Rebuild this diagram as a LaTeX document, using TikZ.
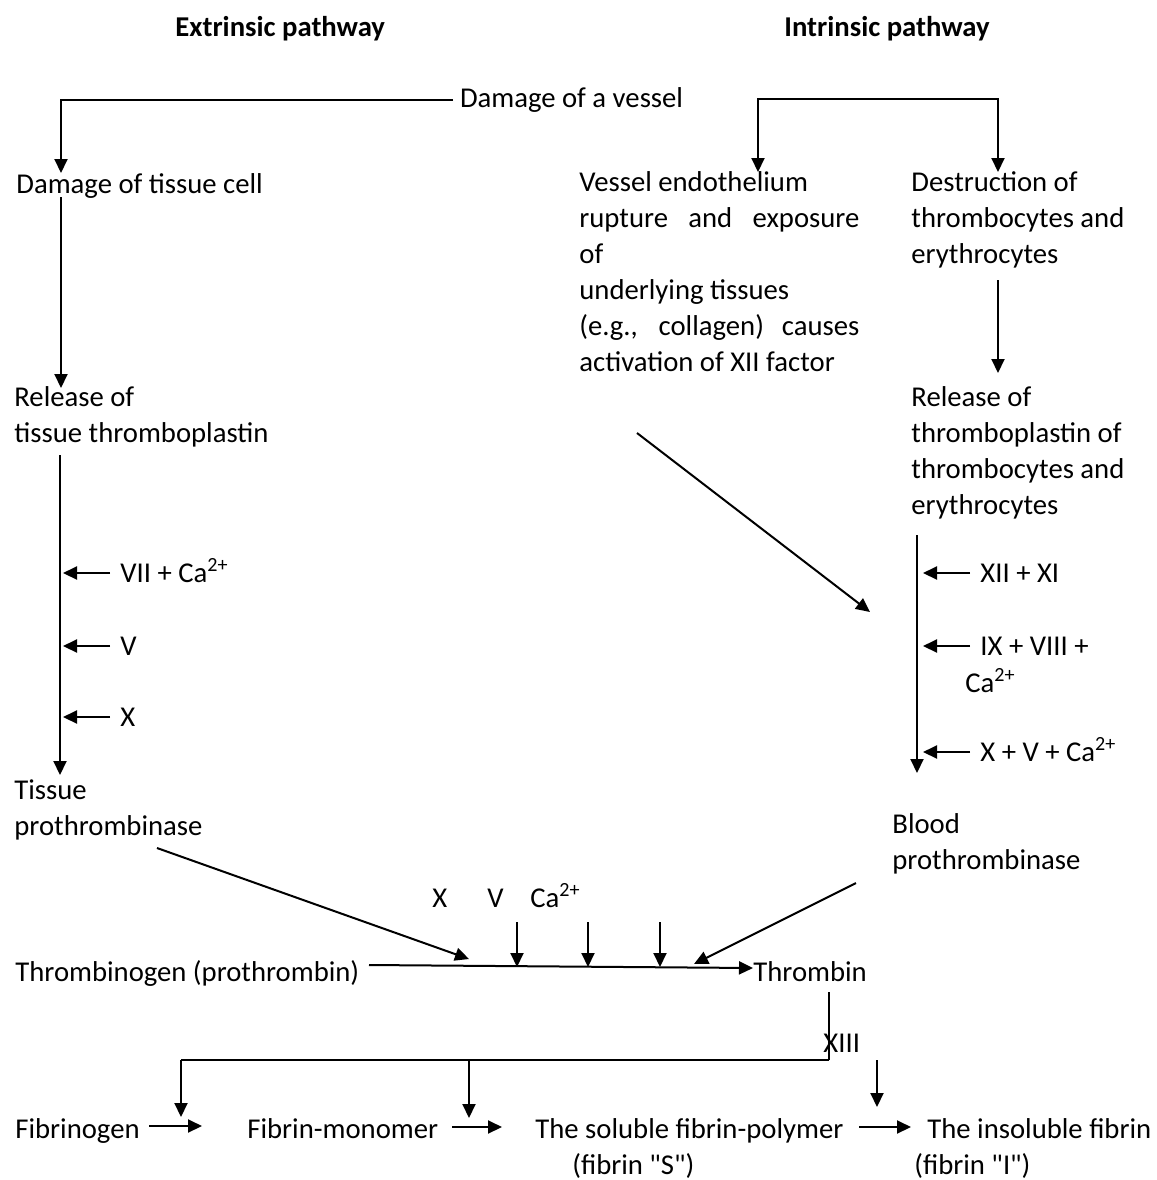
\documentclass[tikz,border=0pt]{standalone}
\usepackage{fontspec}
\setmainfont{Carlito}
\usetikzlibrary{arrows.meta}
\newcommand{\caion}{Ca\textsuperscript{2+}}
\newcommand{\qt}{\textquotedbl}
\tikzset{
  lbl/.style={inner sep=0pt,anchor=base west,align=left,
              font=\fontsize{14.35pt}{18pt}\selectfont},
  hdr/.style={lbl,font=\fontsize{14.35pt}{18pt}\selectfont\bfseries},
  ln/.style={line width=1pt},
  thinln/.style={line width=0.7pt},
  arr/.style={line width=1pt,-{Triangle[length=7pt,width=6.5pt]}},
}
\begin{document}
\begin{tikzpicture}[x=0.5pt,y=-0.5pt]
  \useasboundingbox (0,0) rectangle (1157,1180);

  % headings
  \node[hdr] (hdrext) at (175,36) {Extrinsic pathway};
  \node[hdr] (hdrint) at (784,36) {Intrinsic pathway};

  % texts (multi-line ones sit on the baseline of their last line)
  \node[lbl,outer xsep=3.5pt] (vessel) at (453,107) {Damage of a vessel};
  \node[lbl] (tissuecell) at (16,193) {Damage of tissue cell};
  \node[lbl] (endo) at (579,371) {Vessel endothelium\\
      \makebox[140pt][s]{rupture and exposure}\\ of\\ underlying tissues\\
      \makebox[140pt][s]{(e.g., collagen) causes}\\ activation of XII factor};
  \node[lbl] (destr) at (911,263) {Destruction of\\ thrombocytes and\\ erythrocytes};
  \node[lbl] (reltissue) at (14,442) {Release of\\ tissue thromboplastin};
  \node[lbl] (relblood) at (911,514) {Release of\\ thromboplastin of\\
      thrombocytes and\\ erythrocytes};
  \node[lbl] (fvii) at (120,582) {VII + \caion};
  \node[lbl] (fv) at (120,655) {V};
  \node[lbl] (fx) at (120,726) {X};
  \node[lbl] (tissueprot) at (14,835) {Tissue\\ prothrombinase};
  \node[lbl] (fxii) at (980,582) {XII + XI};
  \node[lbl] (fix) at (980,655) {IX + VIII +};
  \node[lbl] (fixca) at (965,692) {\caion};
  \node[lbl] (fxv) at (980,761) {X + V + \caion};
  \node[lbl] (bloodprot) at (892,869) {Blood\\ prothrombinase};
  \node[lbl] (cx) at (432,907) {X};
  \node[lbl] (cv) at (487,907) {V};
  \node[lbl] (cca) at (530,907) {\caion};
  \node[lbl] (thrombinogen) at (15,981) {Thrombinogen (prothrombin)};
  \node[lbl] (thrombin) at (753,981) {Thrombin};
  \node[lbl] (fxiii) at (823,1052) {XIII};
  \node[lbl] (fibrinogen) at (15,1138) {Fibrinogen};
  \node[lbl] (monomer) at (247,1138) {Fibrin-monomer};
  \node[lbl] (soluble) at (535,1174) {The soluble fibrin-polymer\\
      \hspace*{18.5pt}(fibrin \qt S\qt)};
  \node[lbl] (insoluble) at (914,1174) {\hspace*{6.5pt}The insoluble fibrin\\
      (fibrin \qt I\qt)};

  % junctions and free ends
  \coordinate (ext1) at (61,173);
  \coordinate (ext2) at (61,197);
  \coordinate (ext3) at (61,388);
  \coordinate (ext4) at (60,455);
  \coordinate (ext5) at (60,775);
  \coordinate (int0) at (758,99);
  \coordinate (int1) at (998,99);
  \coordinate (int2) at (758,172);
  \coordinate (int3) at (998,172);
  \coordinate (int4) at (998,280);
  \coordinate (int5) at (998,373);
  \coordinate (int6) at (917,535);
  \coordinate (int7) at (917,773);
  \coordinate (xiiA) at (637,433);
  \coordinate (xiiB) at (870,612);
  \coordinate (tpA) at (157,848);
  \coordinate (tpB) at (469,959);
  \coordinate (bpA) at (856,883);
  \coordinate (bpB) at (694,964);
  \coordinate (mainA) at (369,965);
  \coordinate (mainB) at (753,968);
  \coordinate (thr0) at (829,992);
  \coordinate (thr1) at (829,1060);
  \coordinate (fbr0) at (181,1060);
  \coordinate (fbr1) at (181,1117);
  \coordinate (mon0) at (469,1060);
  \coordinate (mon1) at (469,1118);
  \coordinate (xiii0) at (877,1060);
  \coordinate (xiii1) at (877,1107);

  % extrinsic pathway
  \draw[arr] (vessel.west) -| (ext1);
  \draw[arr] (ext2) -- (ext3);
  \draw[arr] (ext4) -- (ext5);
  \foreach \f in {fvii,fv,fx}
    \draw[arr] ([shift={(-5pt,4.5pt)}]\f.base west) -- ++(-23.5pt,0);

  % intrinsic pathway
  \draw[{Triangle[length=7pt,width=6.5pt]}-{Triangle[length=7pt,width=6.5pt]},ln]
    (int2) -- (int0) -- (int1) -- (int3);
  \draw[arr] (int4) -- (int5);
  \draw[arr] (xiiA) -- (xiiB);
  \draw[arr] (int6) -- (int7);
  \foreach \f in {fxii,fix,fxv}
    \draw[arr] ([shift={(-5pt,4.5pt)}]\f.base west) -- ++(-23.5pt,0);

  % common pathway
  \draw[arr] (tpA) -- (tpB);
  \draw[arr] (bpA) -- (bpB);
  \draw[arr] (mainA) -- (mainB);
  \foreach \x in {517,588,660}
    \draw[arr] (\x,922) -- (\x,967);
  \draw[thinln] (thr0) -- (thr1);
  \draw[ln] (thr1) -- (fbr0);
  \draw[arr] (fbr0) -- (fbr1);
  \draw[arr] (mon0) -- (mon1);
  \draw[arr] (xiii0) -- (xiii1);
  \draw[arr] (149,1126) -- (202,1126);
  \draw[arr] (452,1127) -- (502,1127);
  \draw[arr] (859,1127) -- (911,1127);
\end{tikzpicture}
\end{document}
